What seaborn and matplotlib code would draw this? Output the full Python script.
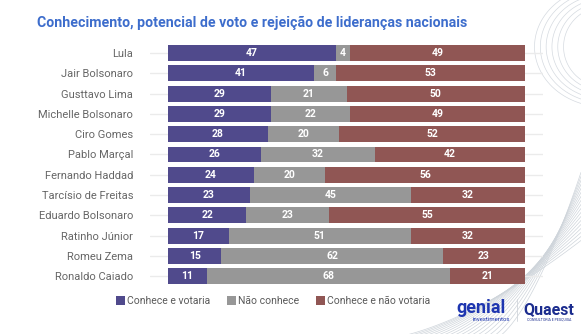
import numpy as np
import pandas as pd
import matplotlib
matplotlib.use("Agg")
import matplotlib.pyplot as plt
from matplotlib.lines import Line2D
from matplotlib.patches import Patch
import seaborn as sns

# --- data -----------------------------------------------------------------
names = [
    "Lula", "Jair Bolsonaro", "Gusttavo Lima", "Michelle Bolsonaro",
    "Ciro Gomes", "Pablo Marçal", "Fernando Haddad", "Tarcísio de Freitas",
    "Eduardo Bolsonaro", "Ratinho Júnior", "Romeu Zema", "Ronaldo Caiado",
]
votaria = [47, 41, 29, 29, 28, 26, 24, 23, 22, 17, 15, 11]
nao_conhece = [4, 6, 21, 22, 20, 32, 20, 45, 23, 51, 62, 68]
nao_votaria = [49, 53, 50, 49, 52, 42, 56, 32, 55, 32, 23, 21]
legend_labels = ["Conhece e votaria", "Não conhece", "Conhece e não votaria"]

C_VOT = "#504A8C"
C_NAO = "#979797"
C_REJ = "#905654"

df = pd.DataFrame({
    "nome": names,
    "votaria": votaria,
    "nao_conhece": nao_conhece,
    "nao_votaria": nao_votaria,
})
df["ate_nao_conhece"] = df["votaria"] + df["nao_conhece"]
df["total"] = df["ate_nao_conhece"] + df["nao_votaria"]

sns.set_theme(style="white")
plt.rcParams["font.family"] = ["Roboto", "DejaVu Sans"]

W, H = 581, 334
fig = plt.figure(figsize=(W / 100, H / 100), dpi=100)
fig.patch.set_facecolor("white")

# --- background ornament (thin swept lines, lower/upper right) ------------
bg = fig.add_axes([0, 0, 1, 1], zorder=-5)
bg.set_xlim(0, 1)
bg.set_ylim(0, 1)
bg.axis("off")
for k in range(18):
    x0 = 0.64 + k * 0.012
    xs = np.linspace(x0, 1.0, 80)
    t = (xs - x0) / (1.0 - x0)
    ys = (0.30 + k * 0.012) * t ** 1.6 - 0.02
    bg.plot(xs, ys, color="#CFD5DB", lw=0.5)
for k in range(6):
    th = np.linspace(np.pi * 0.45, np.pi * 1.55, 80)
    bg.plot(1.04 + (0.07 + 0.01 * k) * np.cos(th),
            0.86 + (0.12 + 0.012 * k) * np.sin(th),
            color="#D5DAE0", lw=0.5)

# --- main bar chart ----------------------------------------------------------
ax = fig.add_axes([150 / W, 1 - 286.3 / H, 393 / W, 243.4 / H])
ax.set_facecolor("none")

common = dict(data=df, y="nome", orient="h", width=0.78, saturation=1,
              linewidth=0, ax=ax, zorder=2)
sns.barplot(x="total", color=C_REJ, **common)
sns.barplot(x="ate_nao_conhece", color=C_NAO, **common)
sns.barplot(x="votaria", color=C_VOT, **common)

for i, row in df.iterrows():
    segs = [(0, row["votaria"]),
            (row["votaria"], row["nao_conhece"]),
            (row["ate_nao_conhece"], row["nao_votaria"])]
    for left, val in segs:
        ax.text(left + val / 2, i, f"{val}", ha="center", va="center",
                color="white", fontsize=7.5, fontweight="bold", zorder=3)

ax.set_xlim(-5, 105)
ax.set_ylim(len(names) - 0.5, -0.5)
ax.grid(axis="y", color="#EBEBEB", lw=1, zorder=0)
ax.grid(axis="x", visible=False)
ax.set_axisbelow(True)
for s in ax.spines.values():
    s.set_visible(False)
ax.set_xlabel("")
ax.set_ylabel("")
ax.set_xticks([])
ax.tick_params(axis="y", length=0, pad=12, labelsize=8, labelcolor="#666666")

# --- title ---------------------------------------------------------------------
fig.text(37 / W, 1 - 27 / H,
         "Conhecimento, potencial de voto e rejeição de lideranças nacionais",
         ha="left", va="baseline", fontsize=10.2, fontweight="bold",
         color="#3D6DCC")

# --- legend -------------------------------------------------------------------
handles = [Patch(facecolor=c, edgecolor="none") for c in (C_VOT, C_NAO, C_REJ)]
fig.legend(handles, legend_labels, loc="center", ncol=3,
           bbox_to_anchor=(273 / W, 1 - 301 / H), frameon=False,
           fontsize=7.5, labelcolor="#5A5A5A", handlelength=0.9,
           handleheight=0.9, handletextpad=0.15, columnspacing=1.6,
           borderaxespad=0, borderpad=0)

# --- brand marks ----------------------------------------------------------------
fig.text(456 / W, 1 - 313 / H, "genial", ha="left", va="baseline",
         fontsize=13, fontweight="bold", color="#1E36B0")
fig.text(491 / W, 1 - 321 / H, "investimentos", ha="center", va="baseline",
         fontsize=4.3, color="#1E36B0")
fig.add_artist(Line2D([517 / W, 517 / W], [1 - 321 / H, 1 - 299 / H],
                      color="#D0D4DA", lw=0.6))
fig.text(549 / W, 1 - 314 / H, "Quaest", ha="center", va="baseline",
         fontsize=11.5, fontweight="bold", color="#1B2C8E")
fig.text(549 / W, 1 - 320.5 / H, "CONSULTORIA E PESQUISA", ha="center",
         va="baseline", fontsize=2.6, color="#1B2C8E")

fig.savefig("out.png", dpi=100, facecolor="white")
